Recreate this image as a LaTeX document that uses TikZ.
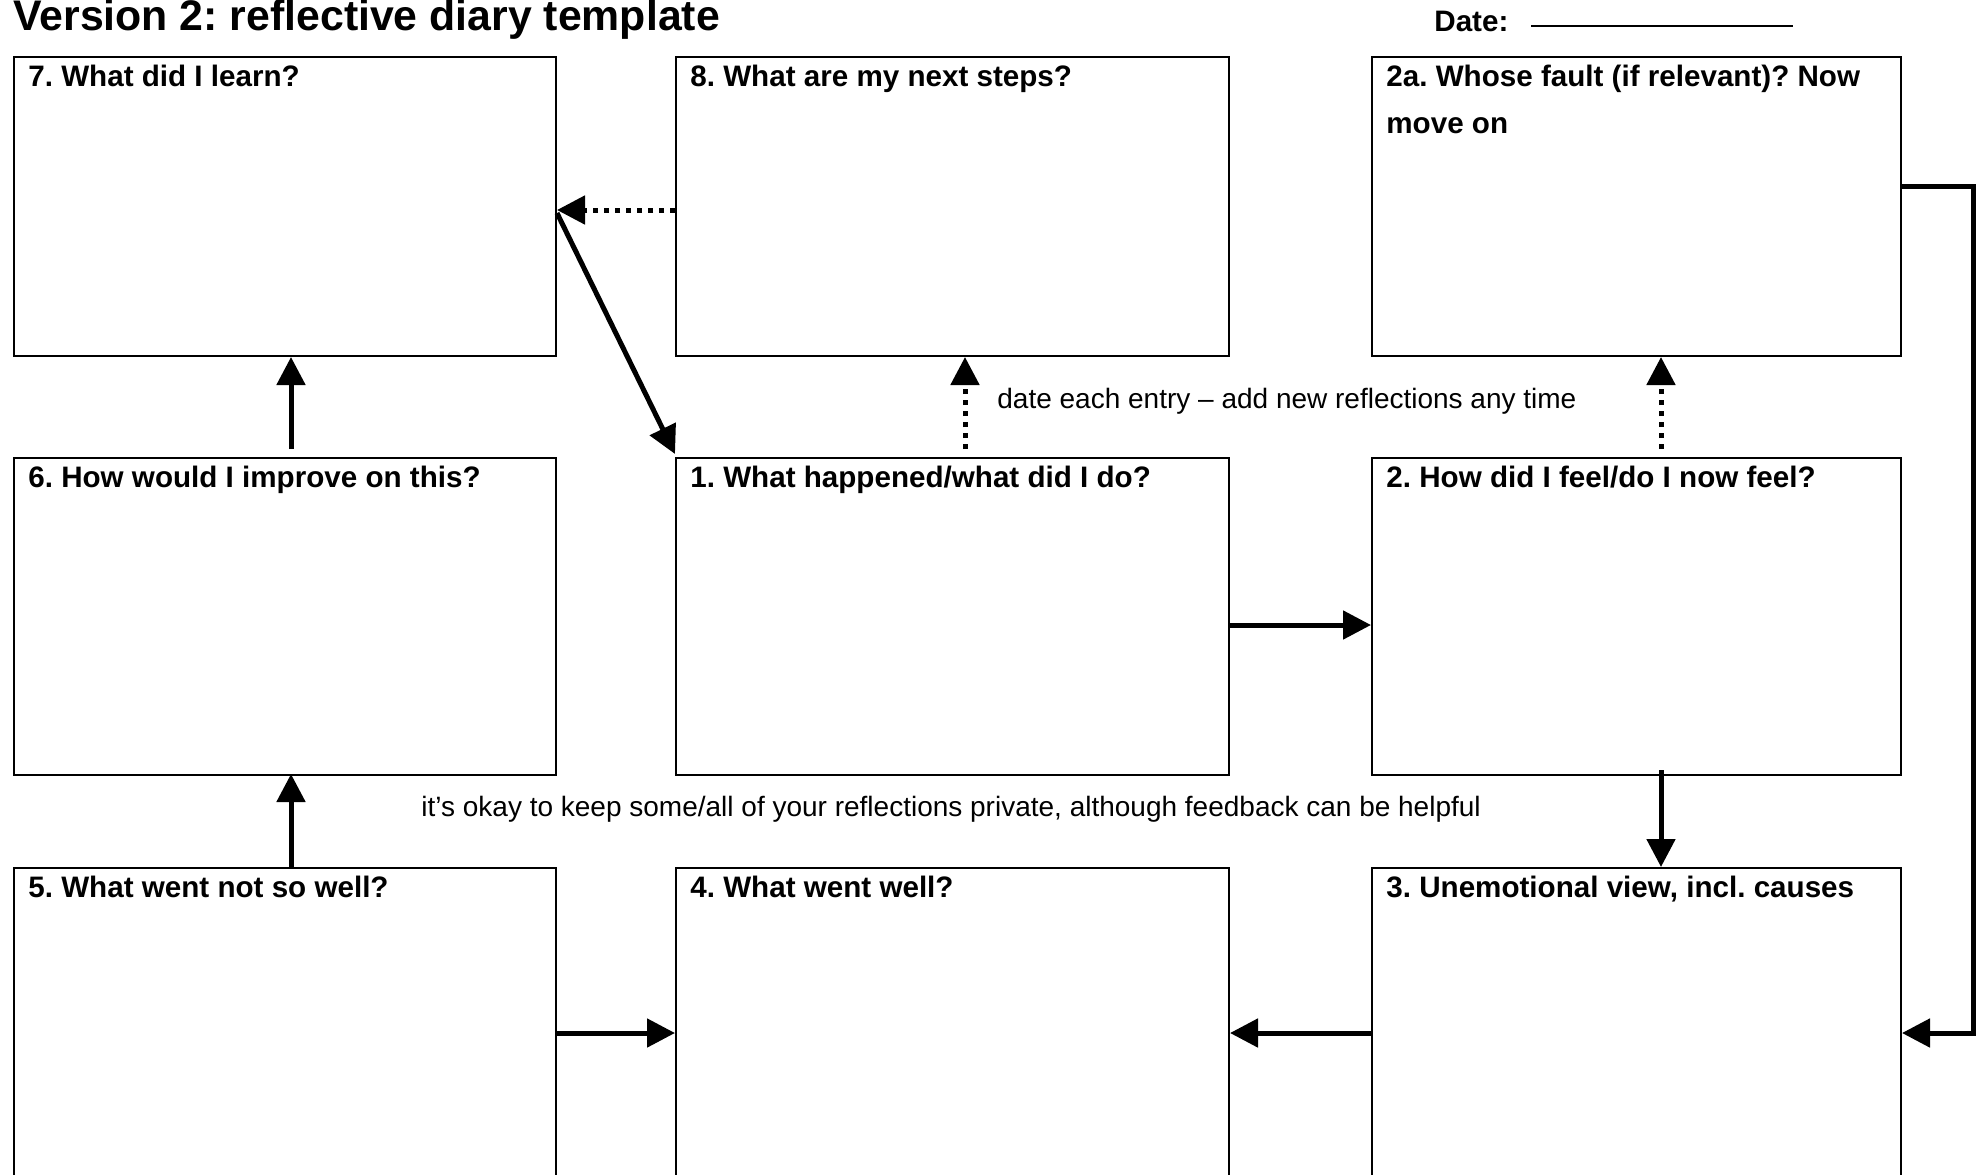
\documentclass[tikz,border=0pt]{standalone}
\usepackage{fontspec}
\setmainfont{Liberation Sans}
\frenchspacing
\usetikzlibrary{arrows.meta,fit,calc}
\tikzstyle{box}=[draw,line width=1pt,inner sep=0pt]
\tikzstyle{lbl}=[anchor=base west,inner sep=0pt,font=\fontsize{14.8}{23.5}\selectfont\bfseries]
\tikzstyle{note}=[anchor=base west,inner sep=0pt,font=\fontsize{14}{17}\selectfont]
\tikzstyle{flow}=[line width=2.5pt,-{Triangle[length=14pt,width=14pt]}]
\tikzstyle{dflow}=[flow,dash pattern=on 2.5pt off 3pt]

\begin{document}
\begin{tikzpicture}[x=0.5pt,y=-0.5pt]
  \useasboundingbox (0,0) rectangle (1978,1174);
  \clip (0,0) rectangle (1978,1174);
  % Heading
  \node[lbl,font=\fontsize{21.4}{25}\selectfont\bfseries] (title) at (13,30) {Version 2: reflective diary template};
  \node[lbl] (date) at (1434,31) {Date:};
  \coordinate (d1) at (1531,26);
  \coordinate (d2) at (1793,26);
  \draw[line width=1pt] (d1) -- (d2);
  % Boxes
  \node[box,fit={(14,57) (556,356)}] (q7) {};
  \node[box,fit={(676,57) (1229,356)}] (q8) {};
  \node[box,fit={(1372,57) (1901,356)}] (q2a) {};
  \node[box,fit={(14,458) (556,775)}] (q6) {};
  \node[box,fit={(676,458) (1229,775)}] (q1) {};
  \node[box,fit={(1372,458) (1901,775)}] (q2) {};
  \node[box,fit={(14,868) (556,1260)}] (q5) {};
  \node[box,fit={(676,868) (1229,1260)}] (q4) {};
  \node[box,fit={(1372,868) (1901,1260)}] (q3) {};
  % Questions
  \node[lbl] (l7) at ($(q7.north west)+(15,30)$) {7. What did I learn?};
  \node[lbl] (l8) at ($(q8.north west)+(15,30)$) {8. What are my next steps?};
  \node[lbl,align=left] (l2a) at ($(q2a.north west)+(15,77)$) {2a. Whose fault (if relevant)? Now\\move on};
  \node[lbl] (l6) at ($(q6.north west)+(15,30)$) {6. How would I improve on this?};
  \node[lbl] (l1) at ($(q1.north west)+(15,30)$) {1. What happened/what did I do?};
  \node[lbl] (l2) at ($(q2.north west)+(15,30)$) {2. How did I feel/do I now feel?};
  \node[lbl] (l5) at ($(q5.north west)+(15,30)$) {5. What went not so well?};
  \node[lbl] (l4) at ($(q4.north west)+(15,30)$) {4. What went well?};
  \node[lbl] (l3) at ($(q3.north west)+(15,30)$) {3. Unemotional view, incl. causes};
  % Notes
  \node[note] (n1) at (997,408) {date each entry -- add new reflections any time};
  \node[note] (n2) at (421,816) {it's okay to keep some/all of your reflections private, although feedback can be helpful};
  % Arrows
  \coordinate (ax) at (291,0);
  \coordinate (bx) at (965,0);
  \coordinate (cx) at (1661,0);
  \coordinate (ay) at (0,625);
  \coordinate (by) at (0,1033);
  \draw[dflow] ($(q8.north west)+(0,154)$) -- ($(q7.north east)+(0,154)$);
  \draw[flow] ($(q7.north east)+(0,157)$) -- ($(q1.north west)+(0,-3)$);
  \draw[flow] ($(q6.north -| ax)+(0,-8)$) -- (q7.south -| ax);
  \draw[flow] (q5.north -| ax) -- ($(q6.south -| ax)+(0,-2)$);
  \draw[dflow] ($(q1.north -| bx)+(0,-8)$) -- (q8.south -| bx);
  \draw[dflow] ($(q2.north -| cx)+(0,-8)$) -- (q2a.south -| cx);
  \draw[flow] (q1.east |- ay) -- (q2.west |- ay);
  \draw[flow] ($(q2.south -| cx)+(0,-6)$) -- (q3.north -| cx);
  \draw[flow] (q3.west |- by) -- (q4.east |- by);
  \draw[flow] (q5.east |- by) -- (q4.west |- by);
  \draw[flow] ($(q2a.north east)+(0,130)$) -- ++(71,0) |- (q3.east |- by);
\end{tikzpicture}
\end{document}
